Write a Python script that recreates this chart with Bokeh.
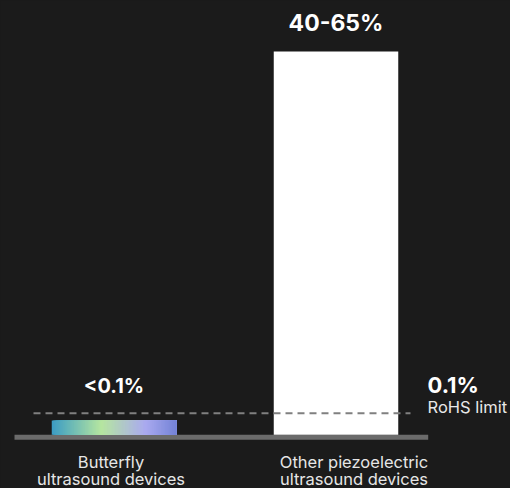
from bokeh.plotting import figure
from bokeh.models import Range1d, ColumnDataSource
from bokeh.embed import file_html
from bokeh.resources import INLINE
from bokeh.core.properties import value

# ---- data ----
categories = ["Butterfly\nultrasound devices", "Other piezoelectric\nultrasound devices"]
bar_values = [0.0877, 65.0]          # percent (illustrative, log scale)
bar_labels = ["<0.1%", "40-65%"]
limit_value = 0.1                    # RoHS limit, percent
limit_label = "0.1%"
limit_name = "RoHS limit"

# ---- style ----
BG = "#1b1b1b"
FONT = "Inter"
BASE = 0.0679
W, H = 510, 488
PX = 222.0  # px per category step

xs = list(range(len(categories)))
x0 = -113.5 / PX
p = figure(width=W, height=H, output_backend="svg", toolbar_location=None,
           y_axis_type="log",
           x_range=Range1d(x0, x0 + W / PX),
           y_range=Range1d(0.02597, 161.9),
           min_border=0, background_fill_color=BG, border_fill_color=BG,
           outline_line_color=None)
p.xaxis.visible = False
p.yaxis.visible = False
p.xgrid.visible = False
p.ygrid.visible = False

bw = 124.5 / PX

# baseline
p.quad(left=[xs[0] - 99.5 / PX], right=[xs[-1] + 92.2 / PX], bottom=[0.0621], top=[BASE],
       fill_color="#6b6b6b", line_color=None)

# gradient bar (Butterfly)
stops = [(0.0, (0x3b, 0x9c, 0xc4)), (0.4, (0xb6, 0xe6, 0xa0)),
         (0.75, (0xaa, 0xaa, 0xf0)), (1.0, (0x74, 0x83, 0xd6))]

def grad(t):
    for (t0, c0), (t1, c1) in zip(stops[:-1], stops[1:]):
        if t <= t1:
            f = (t - t0) / (t1 - t0)
            return "#%02x%02x%02x" % tuple(int(round(a + (b - a) * f)) for a, b in zip(c0, c1))
    return "#%02x%02x%02x" % stops[-1][1]

N = 90
bl = xs[0] - bw / 2
br = xs[0] + bw / 2
lefts = [bl + bw * i / N for i in range(N)]
cols = [grad((i + 0.5) / N) for i in range(N)]
# each slice runs to the bar's right edge; later slices cover earlier ones (no seams)
p.quad(left=lefts, right=[br] * N, bottom=[BASE] * N, top=[bar_values[0]] * N,
       fill_color=cols, line_color=None)

# white bar
p.vbar(x=[xs[1]], top=[bar_values[1]], bottom=BASE, width=bw, fill_color="white", line_color=None)

# dashed RoHS line
p.segment(x0=[xs[0] - 80.5 / PX], x1=[xs[-1] + 74.5 / PX], y0=[limit_value], y1=[limit_value],
          line_color="#808080", line_width=2, line_dash="7 5")

# value labels
src = ColumnDataSource(dict(x=xs, y=bar_values, t=bar_labels, off=[-35, -28], fs=["20px", "23px"]))
p.text(x="x", y="y", text="t", source=src, y_offset="off", text_font_size="fs",
       text_font=value(FONT), text_font_style="bold", text_color="white",
       text_align="center", text_baseline="middle")

# limit labels
lx = xs[-1] + 91.5 / PX
p.text(x=[lx], y=[limit_value], text=[limit_label], y_offset=-28, text_font_size="22px",
       text_font=value(FONT), text_font_style="bold", text_color="white",
       text_align="left", text_baseline="middle")
p.text(x=[lx], y=[limit_value], text=[limit_name], y_offset=-6, text_font_size="16.5px",
       text_font=value(FONT), text_color="#e8e8e8",
       text_align="left", text_baseline="middle")

# category labels (two lines)
line1 = [c.split("\n")[0] for c in categories]
line2 = [c.split("\n")[1] for c in categories]
xo = [-3, 18]
p.text(x=xs, y=[BASE] * 2, text=line1, x_offset=xo, y_offset=27, text_font_size="16.5px",
       text_font=value(FONT), text_color="#e6e6e6", text_align="center", text_baseline="middle")
p.text(x=xs, y=[BASE] * 2, text=line2, x_offset=xo, y_offset=44, text_font_size="16.5px",
       text_font=value(FONT), text_color="#e6e6e6", text_align="center", text_baseline="middle")

html = file_html(p, INLINE)
html = html.replace("</head>", "<style>html,body{margin:0;padding:0;background:%s;overflow:hidden}</style></head>" % BG, 1)
open("out.html", "w").write(html)
